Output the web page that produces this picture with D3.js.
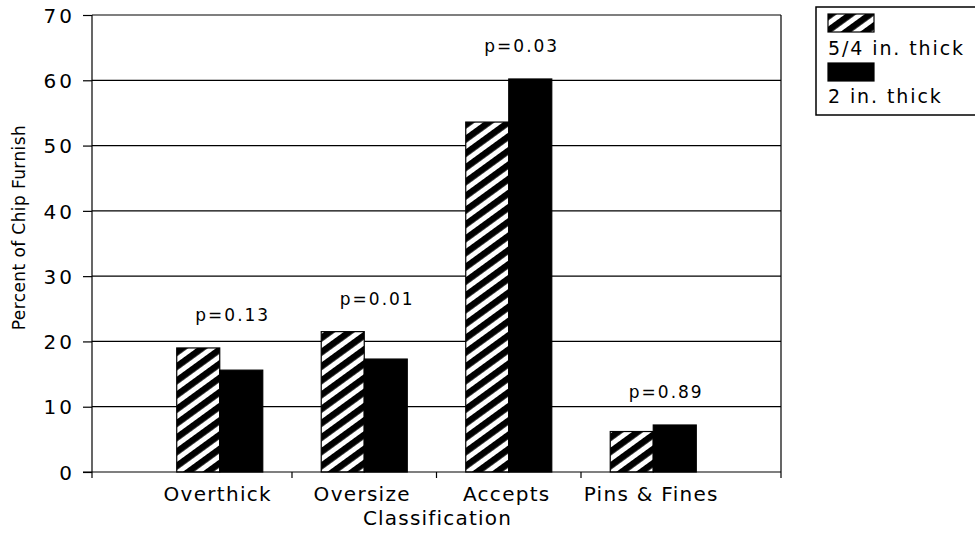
<!DOCTYPE html>
<html>
<head>
<meta charset="utf-8">
<script src="https://cdn.jsdelivr.net/npm/d3@7"></script>
<style>
  body { margin: 0; background: #fff; }
  svg { display: block; }
  text { font-family: "DejaVu Sans", sans-serif; fill: #000; }
</style>
</head>
<body>
<svg id="chart" width="975" height="533"></svg>
<script>
const categories = ["Overthick", "Oversize", "Accepts", "Pins & Fines"];
const seriesNames = ["5/4 in. thick", "2 in. thick"];
const thick54 = [19.0, 21.5, 53.6, 6.2];
const thick2 = [15.6, 17.3, 60.2, 7.2];
const pLabels = ["p=0.13", "p=0.01", "p=0.03", "p=0.89"];
const yTicks = [0, 10, 20, 30, 40, 50, 60, 70];
const yTitle = "Percent of Chip Furnish";
const xTitle = "Classification";

const svg = d3.select("#chart");
const W = 975, H = 533;
const margin = { top: 15, right: 194, bottom: 61, left: 92 };
const plotL = margin.left, plotR = W - margin.right, plotT = margin.top, plotB = H - margin.bottom;

const defs = svg.append("defs");
const pat = defs.append("pattern")
  .attr("id", "hatch")
  .attr("patternUnits", "userSpaceOnUse")
  .attr("width", 12).attr("height", 11.5)
  .attr("patternTransform", "rotate(-36)");
pat.append("rect").attr("width", 12).attr("height", 11.5).attr("fill", "#fff");
pat.append("rect").attr("width", 12).attr("height", 6.5).attr("fill", "#000");

const x0 = d3.scaleBand().domain(categories).range([plotL, plotR]).paddingInner(0).paddingOuter(0.384);
const x1 = d3.scaleBand().domain(seriesNames).range([0, x0.bandwidth()]).paddingInner(0).paddingOuter(0.68);
const y = d3.scaleLinear().domain([0, 70]).range([plotB, plotT]);

const fills = ["url(#hatch)", "#000"];
const series = [thick54, thick2];

// gridlines
svg.append("g").selectAll("line").data(yTicks.filter(d => d > 0)).join("line")
  .attr("x1", plotL).attr("x2", plotR)
  .attr("y1", d => y(d)).attr("y2", d => y(d))
  .attr("stroke", "#000").attr("stroke-width", 1.2);

// y axis
const yAxis = d3.axisLeft(y).tickValues(yTicks).tickSize(9).tickFormat(d3.format("d"));
const gy = svg.append("g").attr("transform", `translate(${plotL},0)`).call(yAxis);
gy.select(".domain").remove();
gy.selectAll(".tick line").attr("stroke", "#000").attr("stroke-width", 1.2);
gy.selectAll(".tick text").attr("font-size", 20).attr("letter-spacing", 3)
  .attr("x", -17).attr("dy", "0.36em").attr("font-family", "DejaVu Sans");

// bars
const groups = svg.append("g").selectAll("g").data(categories).join("g")
  .attr("transform", d => `translate(${x0(d)},0)`);
groups.selectAll("rect").data((c, i) => seriesNames.map((s, k) => ({ s, k, v: series[k][i] }))).join("rect")
  .attr("x", d => x1(d.s))
  .attr("width", x1.bandwidth())
  .attr("y", d => y(d.v))
  .attr("height", d => y(0) - y(d.v))
  .attr("fill", d => fills[d.k])
  .attr("stroke", "#000").attr("stroke-width", 1.2);

// p labels
svg.append("g").selectAll("text").data(categories).join("text")
  .attr("x", (c) => x0(c) + x0.bandwidth() / 2 + 13)
  .attr("y", (c, i) => y(Math.max(thick54[i], thick2[i])) - 27)
  .attr("text-anchor", "middle")
  .attr("font-size", 17).attr("letter-spacing", 2)
  .text((c, i) => pLabels[i]);

// frame
svg.append("line").attr("x1", plotL).attr("x2", plotL).attr("y1", plotT).attr("y2", plotB + 6).attr("stroke", "#000").attr("stroke-width", 1.2);
svg.append("line").attr("x1", plotR).attr("x2", plotR).attr("y1", plotT).attr("y2", plotB + 6).attr("stroke", "#000").attr("stroke-width", 1.2);
svg.append("line").attr("x1", plotL - 9).attr("x2", plotR).attr("y1", plotB).attr("y2", plotB).attr("stroke", "#000").attr("stroke-width", 1.2);

// x axis boundary ticks
const bounds = categories.slice(1).map(c => x0(c) - (x0.step() - x0.bandwidth()) / 2);
svg.append("g").selectAll("line").data(bounds).join("line")
  .attr("x1", d => d).attr("x2", d => d)
  .attr("y1", plotB).attr("y2", plotB + 6)
  .attr("stroke", "#000").attr("stroke-width", 1.2);

// category labels
svg.append("g").selectAll("text").data(categories).join("text")
  .attr("x", c => x0(c) + x0.bandwidth() / 2 - 2)
  .attr("y", plotB + 29)
  .attr("text-anchor", "middle")
  .attr("font-size", 20).attr("letter-spacing", 1.3)
  .text(c => c);

// axis titles
svg.append("text")
  .attr("x", (plotL + plotR) / 2 + 1).attr("y", plotB + 53)
  .attr("text-anchor", "middle")
  .attr("font-size", 20).attr("letter-spacing", 1.2)
  .text(xTitle);

svg.append("text")
  .attr("transform", `translate(25,${(plotT + plotB) / 2 - 16}) rotate(-90)`)
  .attr("text-anchor", "middle")
  .attr("font-size", 17).attr("letter-spacing", 0.4)
  .text(yTitle);

// legend
const lg = svg.append("g").attr("transform", "translate(816,7)");
lg.append("rect").attr("x", 0).attr("y", 0).attr("width", 200).attr("height", 108)
  .attr("fill", "#fff").attr("stroke", "#000").attr("stroke-width", 1.5);
seriesNames.forEach((s, k) => {
  lg.append("rect").attr("x", 12).attr("y", 7 + k * 49).attr("width", 46).attr("height", 18)
    .attr("fill", fills[k]).attr("stroke", "#000").attr("stroke-width", 1.2);
  lg.append("text").attr("x", 12).attr("y", 48 + k * 48)
    .attr("font-size", 19).attr("letter-spacing", 1.9)
    .text(s);
});
</script>
</body>
</html>
